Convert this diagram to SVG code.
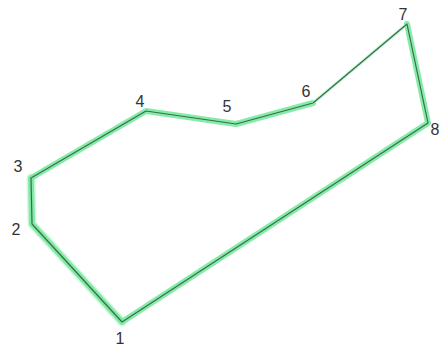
<svg xmlns="http://www.w3.org/2000/svg" width="441" height="349" viewBox="0 0 441 349">
<style>
.glow{fill:none;stroke:#6ee89a;stroke-width:6;stroke-linejoin:round;stroke-linecap:round;opacity:0.85}
.thin{fill:none;stroke:#a8f0c0;stroke-width:3;stroke-linecap:round;opacity:0.8}
.glow2{fill:none;stroke:#a8f2c0;stroke-width:9;stroke-linejoin:round;stroke-linecap:round;opacity:0.5}
.line{fill:none;stroke:#3d6b4a;stroke-width:1.2;stroke-linejoin:round}
.lbl{font-family:"Liberation Sans",Arial,sans-serif;font-size:16px;fill:#333;text-anchor:middle}
</style>
<g id="connectors">
<polyline class="glow2" points="122,322 32,224 31,178"/>
<polyline class="glow" points="313,103 236,124 146,111 31,178 32,224 122,322 428,123 407,24"/>
<polyline class="thin" points="313,103 407,24"/>
<polygon class="line" points="122,322 32,224 31,178 146,111 236,124 313,103 407,24 428,123"/>
</g>
<g id="n1"><text class="lbl" x="120" y="344">1</text></g>
<g id="n2"><text class="lbl" x="16" y="235">2</text></g>
<g id="n3"><text class="lbl" x="18" y="172">3</text></g>
<g id="n4"><text class="lbl" x="140" y="107">4</text></g>
<g id="n5"><text class="lbl" x="227" y="112">5</text></g>
<g id="n6"><text class="lbl" x="306" y="97">6</text></g>
<g id="n7"><text class="lbl" x="403" y="20">7</text></g>
<g id="n8"><text class="lbl" x="435" y="135">8</text></g>
</svg>
